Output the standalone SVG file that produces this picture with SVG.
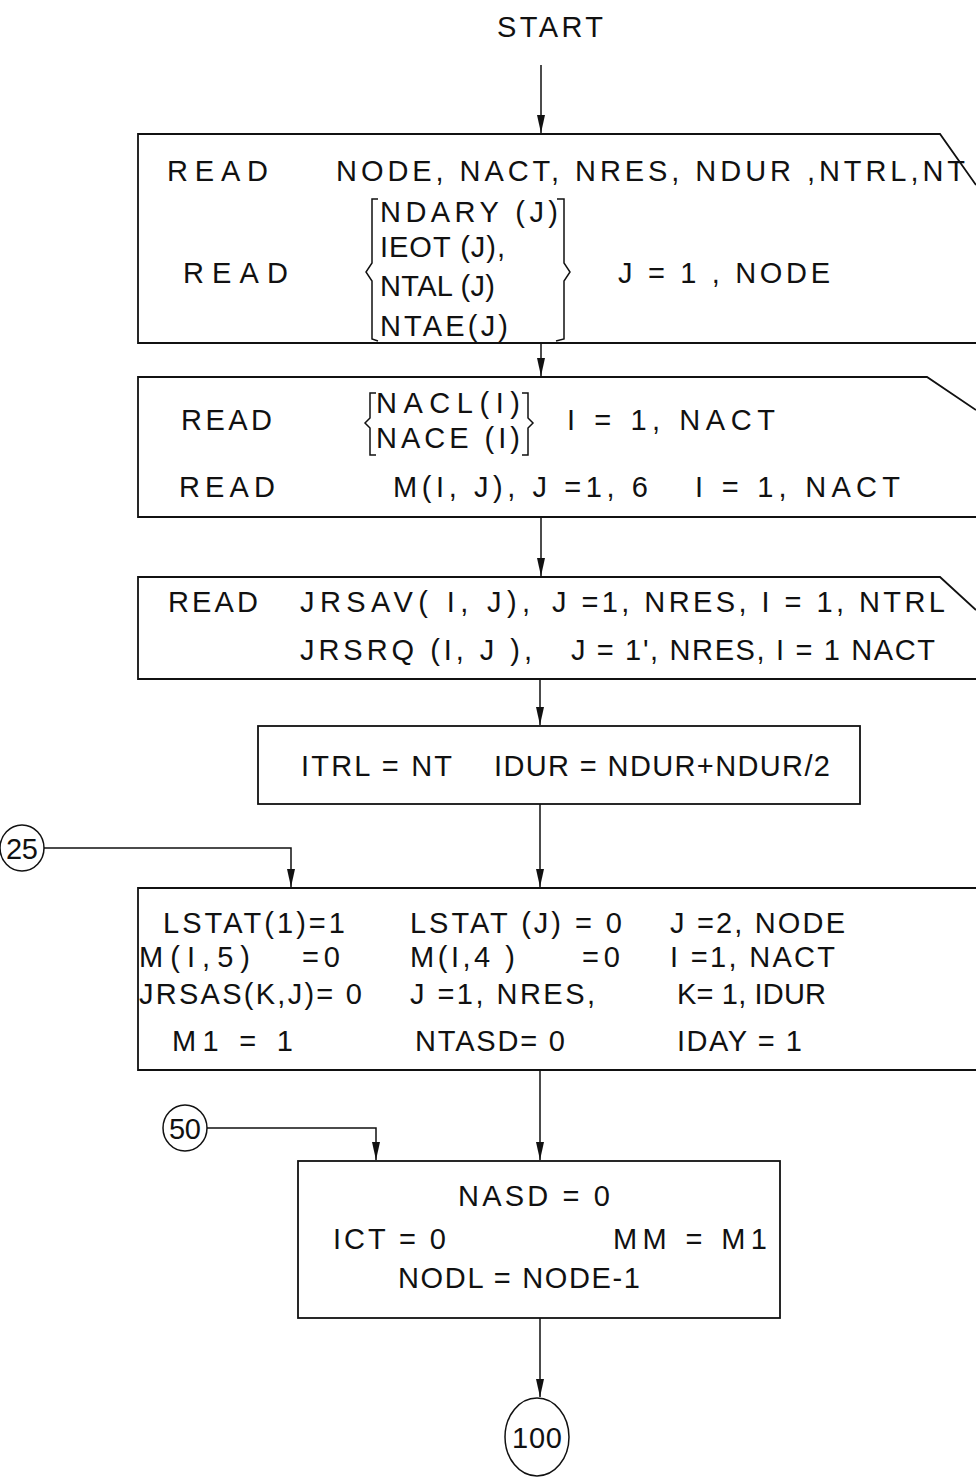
<svg xmlns="http://www.w3.org/2000/svg" width="976" height="1479" viewBox="0 0 976 1479">
<style>
.t{font-family:"Liberation Sans",Arial,sans-serif;font-size:29px;fill:#111;}
.b{fill:none;stroke:#111;stroke-width:1.8;}
.c{fill:none;stroke:#111;stroke-width:1.5;}
</style>
<defs>
<marker id="a" markerWidth="8" markerHeight="18" refX="4" refY="18" orient="0" markerUnits="userSpaceOnUse" viewBox="0 0 8 18">
<path d="M0,0 L8,0 L4,18 Z" fill="#111"/>
</marker>
</defs>

<g id="start"><text class="t" x="497" y="37" textLength="106" lengthAdjust="spacing">START</text></g>

<g id="node-read1">
<path class="b" d="M976,185 L940,134 L138,134 L138,343 L976,343"/>
<text class="t" x="167" y="181" textLength="101" lengthAdjust="spacing">READ</text>
<text class="t" x="336" y="181" textLength="629" lengthAdjust="spacing">NODE, NACT, NRES, NDUR ,NTRL,NT</text>
<path class="c" d="M378,199 L372,199 L372,263 L366,272 L372,281 L372,339 L378,341"/>
<path class="c" d="M557,199 L564,199 L564,263 L570,272 L564,281 L564,339 L556,341"/>
<text class="t" x="380" y="222" textLength="178" lengthAdjust="spacing">NDARY (J)</text>
<text class="t" x="380" y="257" textLength="125" lengthAdjust="spacing">IEOT (J),</text>
<text class="t" x="380" y="296" textLength="115" lengthAdjust="spacing">NTAL (J)</text>
<text class="t" x="380" y="336" textLength="128" lengthAdjust="spacing">NTAE(J)</text>
<text class="t" x="183" y="283" textLength="105" lengthAdjust="spacing">READ</text>
<text class="t" x="618" y="283" textLength="212" lengthAdjust="spacing">J = 1 , NODE</text>
</g>

<g id="node-read2">
<path class="b" d="M976,410 L927,377 L138,377 L138,517 L976,517"/>
<text class="t" x="181" y="430" textLength="91" lengthAdjust="spacing">READ</text>
<path class="c" d="M376,393 L370,393 L370,418 L365,423 L370,428 L370,455 L376,455"/>
<path class="c" d="M522,393 L528,393 L528,418 L533,423 L528,428 L528,455 L522,455"/>
<text class="t" x="376" y="413" textLength="144" lengthAdjust="spacing">NACL(I)</text>
<text class="t" x="376" y="448" textLength="144" lengthAdjust="spacing">NACE (I)</text>
<text class="t" x="567" y="430" textLength="208" lengthAdjust="spacing">I = 1, NACT</text>
<text class="t" x="179" y="497" textLength="96" lengthAdjust="spacing">READ</text>
<text class="t" x="393" y="497" textLength="255" lengthAdjust="spacing">M(I, J), J =1, 6</text>
<text class="t" x="695" y="497" textLength="205" lengthAdjust="spacing">I = 1, NACT</text>
</g>

<g id="node-read3">
<path class="b" d="M976,610 L940,577 L138,577 L138,679 L976,679"/>
<text class="t" x="168" y="612" textLength="90" lengthAdjust="spacing">READ</text>
<text class="t" x="300" y="612" textLength="230" lengthAdjust="spacing">JRSAV( I, J),</text>
<text class="t" x="552" y="612" textLength="393" lengthAdjust="spacing">J =1, NRES, I = 1, NTRL</text>
<text class="t" x="300" y="660" textLength="232" lengthAdjust="spacing">JRSRQ (I, J ),</text>
<text class="t" x="571" y="660" textLength="364" lengthAdjust="spacing">J = 1', NRES, I = 1 NACT</text>
</g>

<g id="node-itrl">
<rect class="b" x="258" y="726" width="602" height="78"/>
<text class="t" x="301" y="776" textLength="151" lengthAdjust="spacing">ITRL = NT</text>
<text class="t" x="494" y="776" textLength="336" lengthAdjust="spacing">IDUR = NDUR+NDUR/2</text>
</g>

<g id="node-init">
<path class="b" d="M976,888 L138,888 L138,1070 L976,1070"/>
<text class="t" x="163" y="933" textLength="182" lengthAdjust="spacing">LSTAT(1)=1</text>
<text class="t" x="410" y="933" textLength="212" lengthAdjust="spacing">LSTAT (J) = 0</text>
<text class="t" x="670" y="933" textLength="175" lengthAdjust="spacing">J =2, NODE</text>
<text class="t" x="139" y="967" textLength="111" lengthAdjust="spacing">M(I,5)</text>
<text class="t" x="302" y="967" textLength="38" lengthAdjust="spacing">= 0</text>
<text class="t" x="410" y="967" textLength="105" lengthAdjust="spacing">M(I,4 )</text>
<text class="t" x="582" y="967" textLength="38" lengthAdjust="spacing">= 0</text>
<text class="t" x="670" y="967" textLength="165" lengthAdjust="spacing">I =1, NACT</text>
<text class="t" x="139" y="1004" textLength="223" lengthAdjust="spacing">JRSAS(K,J)= 0</text>
<text class="t" x="410" y="1004" textLength="185" lengthAdjust="spacing">J =1, NRES,</text>
<text class="t" x="677" y="1004" textLength="149" lengthAdjust="spacing">K= 1, IDUR</text>
<text class="t" x="172" y="1051" textLength="121" lengthAdjust="spacing">M1  =  1</text>
<text class="t" x="415" y="1051" textLength="150" lengthAdjust="spacing">NTASD= 0</text>
<text class="t" x="677" y="1051" textLength="125" lengthAdjust="spacing">IDAY = 1</text>
</g>

<g id="node-nasd">
<rect class="b" x="298" y="1161" width="482" height="157"/>
<text class="t" x="458" y="1206" textLength="152" lengthAdjust="spacing">NASD = 0</text>
<text class="t" x="333" y="1249" textLength="113" lengthAdjust="spacing">ICT = 0</text>
<text class="t" x="613" y="1249" textLength="154" lengthAdjust="spacing">MM = M1</text>
<text class="t" x="398" y="1288" textLength="242" lengthAdjust="spacing">NODL = NODE-1</text>
</g>

<g id="conn-25">
<ellipse class="c" cx="22" cy="848" rx="22" ry="23"/>
<text class="t" x="22" y="859" text-anchor="middle" textLength="32" lengthAdjust="spacing">25</text>
</g>
<g id="conn-50">
<ellipse class="c" cx="185" cy="1128" rx="22" ry="23"/>
<text class="t" x="185" y="1139" text-anchor="middle" textLength="32" lengthAdjust="spacing">50</text>
</g>
<g id="conn-100">
<ellipse class="c" cx="537" cy="1437" rx="32" ry="39"/>
<text class="t" x="537" y="1448" text-anchor="middle" textLength="50" lengthAdjust="spacing">100</text>
</g>

<g id="connectors" fill="none" stroke="#111" stroke-width="1.5">
<path d="M541,65 L541,133" marker-end="url(#a)"/>
<path d="M541,343 L541,376" marker-end="url(#a)"/>
<path d="M541,517 L541,576" marker-end="url(#a)"/>
<path d="M540,679 L540,725" marker-end="url(#a)"/>
<path d="M540,804 L540,887" marker-end="url(#a)"/>
<path d="M44,848 L291,848 L291,887" marker-end="url(#a)"/>
<path d="M540,1070 L540,1160" marker-end="url(#a)"/>
<path d="M207,1128 L376,1128 L376,1160" marker-end="url(#a)"/>
<path d="M540,1318 L540,1397" marker-end="url(#a)"/>
</g>
</svg>
